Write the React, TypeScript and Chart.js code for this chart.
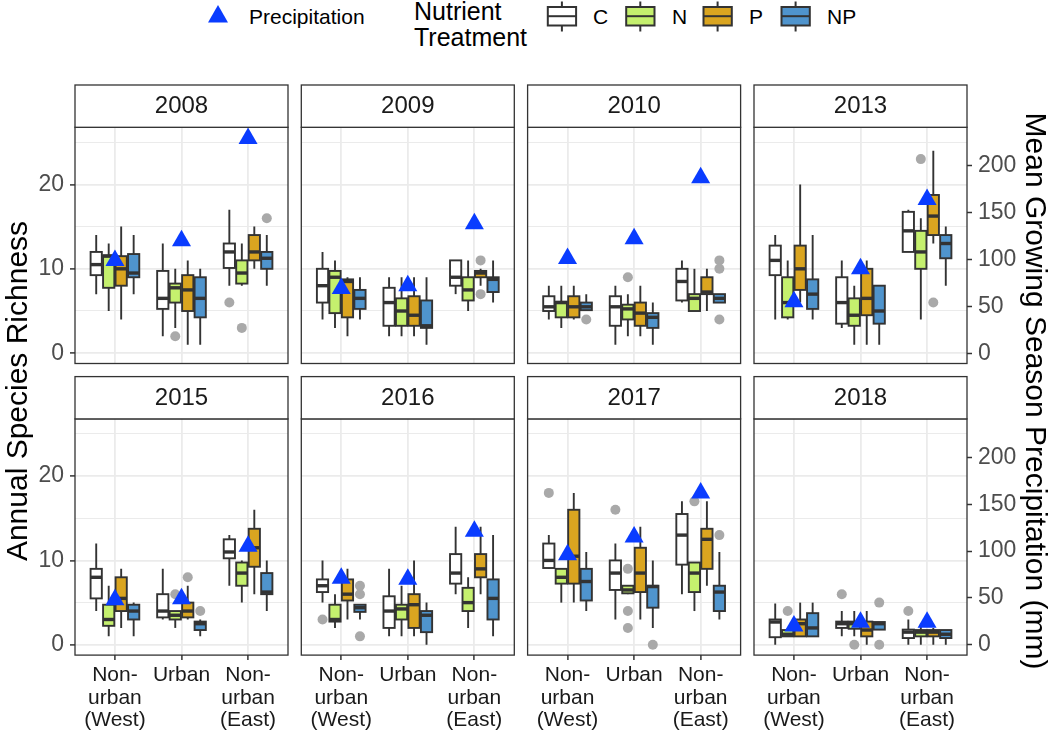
import React, { useEffect, useRef } from "react";
import { Chart, registerables } from "chart.js";

Chart.register(...registerables);

const FONT = "'Liberation Sans', Arial, Helvetica, sans-serif";

// ---------------- data ----------------
const years = ["2008", "2009", "2010", "2013", "2015", "2016", "2017", "2018"];
const siteLabels = [["Non-", "urban", "(West)"], ["Urban"], ["Non-", "urban", "(East)"]];
const treatments = ["C", "N", "P", "NP"];
const treatmentFills = ["#FFFFFF", "#C5F06E", "#DAA520", "#4F94CD"];
const richnessTicks = [0, 10, 20];
const richnessMinorTicks = [5, 15, 25];
const precipTicks = [0, 50, 100, 150, 200];

// mean growing season precipitation (mm): [West, Urban, East]
const precip2008 = [99, 120, 229];
const precip2009 = [69, 72, 138];
const precip2010 = [101, 122, 187];
const precip2013 = [55, 90, 164];
const precip2015 = [48, 49, 105];
const precip2016 = [71, 70, 121];
const precip2017 = [96, 115, 162];
const precip2018 = [20, 24, 24];

// box statistics [lower whisker, Q1, median, Q3, upper whisker]
// order: West C,N,P,NP | Urban C,N,P,NP | East C,N,P,NP
const box2008 = [
  [7, 9.25, 10.5, 12, 14], [5, 7.75, 11.5, 11.6, 13], [4, 8, 10, 11.5, 15], [7, 9, 9.5, 11.75, 14],
  [2, 5.25, 6.5, 9.75, 13], [3, 6, 7.75, 8.25, 10], [1, 5, 7.5, 9.25, 11], [1, 4.25, 6.5, 9, 10],
  [8, 10.1, 12, 13, 17], [8, 8.25, 9.5, 11, 13], [10, 11, 12, 14, 15], [8, 10, 11.25, 12, 14],
];
const box2009 = [
  [4, 6, 8, 10, 12], [3, 4.75, 9, 9.75, 11], [2, 4.25, 8.5, 8.75, 9], [4, 5.25, 6.5, 7.5, 9],
  [2, 3.25, 6, 7.75, 9], [2, 3.25, 5, 6.5, 9], [2, 3.25, 4.5, 6.75, 9], [1, 3, 3.25, 6.25, 9],
  [7, 8, 9, 11, 11], [5, 6.25, 7.5, 9, 11], [8, 9, 9.5, 9.75, 10], [6, 7.25, 8.75, 9, 11],
];
const box2010 = [
  [4, 5, 5.5, 6.75, 8], [3, 4.25, 6, 6.1, 8], [4, 4.25, 5.5, 6.75, 8], [5, 5.1, 5.5, 6, 7],
  [1, 3.25, 5.5, 6.75, 8], [2, 4, 5.25, 5.75, 7], [2, 3.25, 4.75, 6, 8], [1, 3, 4.25, 4.75, 6],
  [6, 6.25, 8.5, 10, 11], [5, 5, 6.5, 7, 10], [5, 7, 7.25, 9, 10], [6, 6, 6.5, 7, 7],
];
const box2013 = [
  [4, 9.25, 11, 12.75, 14], [4, 4.25, 6, 9, 11], [6, 7.5, 10, 12.75, 20], [4, 5.25, 7, 8.75, 14],
  [3, 3.5, 6, 9, 11], [1, 3.25, 4.5, 6.5, 8], [1, 4.5, 6.5, 10, 11], [1, 3.5, 5, 8, 8],
  [12, 12, 14.5, 16.75, 17], [4, 10, 12, 14.5, 16], [13, 14, 16.25, 18.75, 24], [8, 11.25, 13, 14, 15],
];
const box2015 = [
  [4, 5.5, 8, 9, 12], [1, 2.25, 3, 4.75, 7], [2, 4, 5.5, 8, 9], [1, 3, 4, 4.75, 5],
  [3, 3.25, 4, 6, 9], [2, 3, 3.5, 4, 4], [3, 3.25, 4, 5, 7], [1, 1.75, 2.5, 2.75, 3],
  [7, 10.25, 11, 12.5, 13], [5, 7, 8.5, 9.75, 10], [6, 9.25, 11.5, 13.75, 16], [4, 6, 6.25, 8.5, 10],
];
const box2016 = [
  [5, 6.25, 7, 7.75, 10], [2, 2.75, 3, 4.75, 6], [3, 5.25, 6, 7.75, 9], [3, 3.9, 4.4, 4.75, 4.75],
  [1, 2, 4, 5.75, 9], [1, 3, 4.25, 4.75, 7], [1, 2, 4.75, 6, 10], [0, 1.5, 3.5, 4, 5],
  [6, 7.25, 8.5, 10.75, 14], [2, 4, 5, 6.75, 8], [6, 8, 9, 10.75, 14], [1, 3, 5.5, 7.75, 13],
];
const box2017 = [
  [9, 9.1, 10, 12, 13], [5, 7.25, 8, 9, 9], [5, 7.25, 10.5, 16, 18], [4, 5.25, 7.5, 9, 11],
  [3, 6.5, 8.5, 10, 12], [6, 6.1, 6.5, 7, 7], [3, 6.25, 8.5, 11.5, 14], [2, 4.4, 6.9, 7, 10],
  [6, 9.5, 13, 15.5, 17], [4, 6.25, 8.5, 9.75, 9.75], [7, 9, 12.5, 13.75, 17], [3, 4, 6.25, 7, 11],
];
const box2018 = [
  [0, 0.9, 2.7, 3, 4.9], [1, 1, 1.25, 1.75, 2], [1, 1, 2.5, 3, 5], [1, 1, 2, 3.75, 5],
  [1, 2, 2.5, 2.75, 4], [1, 1.9, 2.5, 2.75, 4], [0, 1, 1.75, 2.75, 4], [1.75, 1.8, 2.5, 2.7, 2.7],
  [0, 0.8, 1.5, 1.8, 3], [0, 1, 1.5, 1.75, 2.5], [0, 1, 1.5, 1.75, 2], [0, 0.8, 1.25, 1.75, 1.75],
];

// outliers: [site index, treatment index, richness]
const out2008 = [[1, 1, 2], [2, 0, 6], [2, 1, 3], [2, 3, 16]];
const out2009 = [[2, 2, 11], [2, 2, 7]];
const out2010 = [[0, 3, 4], [1, 1, 9], [2, 3, 11], [2, 3, 10], [2, 3, 4]];
const out2013 = [[2, 1, 23], [2, 2, 6]];
const out2015 = [[1, 1, 6], [1, 2, 8], [1, 3, 4]];
const out2016 = [[0, 0, 3], [0, 3, 7], [0, 3, 6], [0, 3, 1]];
const out2017 = [[0, 0, 18], [1, 0, 16], [1, 1, 9], [1, 1, 4], [1, 1, 2], [1, 3, 0], [2, 1, 17], [2, 3, 13]];
const out2018 = [[0, 1, 4], [1, 0, 6], [1, 1, 0], [1, 3, 5], [1, 3, 0], [2, 0, 4]];

const precipByYear = [precip2008, precip2009, precip2010, precip2013, precip2015, precip2016, precip2017, precip2018];
const boxesByYear = [box2008, box2009, box2010, box2013, box2015, box2016, box2017, box2018];
const outliersByYear = [out2008, out2009, out2010, out2013, out2015, out2016, out2017, out2018];

// ---------------- styling / layout ----------------
const PRECIP_FACTOR = 9; // secondary axis: mm = richness * 9
const Y_MIN = -1.22;
const Y_MAX = 26.77;
const X_MIN = 0.4;
const X_MAX = 3.6;
const GROUP_WIDTH = 0.75;
const SLOT = GROUP_WIDTH / treatments.length;
const BOX_FRAC = 0.9;
const BLUE = "#0A3CFF";
const OUTLIER = "#A9A9A9";
const EDGE = "#333333";
const GRID = "#EBEBEB";

const PANEL_LEFTS = [75, 301.3, 527.6, 754];
const PANEL_W = 213;
const STRIP_TOPS = [85, 376.6];
const STRIP_H = 42.3;
const PLOT_H = 236.2;

const dodge = (t: number) => (t - (treatments.length - 1) / 2) * SLOT;

function makeBoxPlugin(stats: number[][]) {
  return {
    id: "boxes",
    afterDatasetDraw(chart: any, args: any) {
      if (args.index !== 1) return;
      const ctx = chart.ctx;
      const xs = chart.scales.x;
      const ys = chart.scales.y;
      ctx.save();
      stats.forEach((st, k) => {
        const s = Math.floor(k / treatments.length);
        const t = k % treatments.length;
        const c = s + 1 + dodge(t);
        const half = (SLOT * BOX_FRAC) / 2;
        const xl = xs.getPixelForValue(c - half);
        const xr = xs.getPixelForValue(c + half);
        const xm = xs.getPixelForValue(c);
        const [lo, q1, med, q3, hi] = st.map((v) => ys.getPixelForValue(v));
        ctx.strokeStyle = EDGE;
        ctx.lineWidth = 1.9;
        ctx.beginPath();
        ctx.moveTo(xm, hi);
        ctx.lineTo(xm, q3);
        ctx.moveTo(xm, q1);
        ctx.lineTo(xm, lo);
        ctx.stroke();
        ctx.fillStyle = treatmentFills[t];
        ctx.fillRect(xl, q3, xr - xl, q1 - q3);
        ctx.strokeRect(xl, q3, xr - xl, q1 - q3);
        ctx.lineWidth = 3.4;
        ctx.beginPath();
        ctx.moveTo(xl, med);
        ctx.lineTo(xr, med);
        ctx.stroke();
      });
      ctx.restore();
    },
  };
}

function makeFramePlugin(year: string) {
  return {
    id: "frame",
    afterDraw(chart: any) {
      const ctx = chart.ctx;
      const { left, top, right, bottom } = chart.chartArea;
      ctx.save();
      ctx.strokeStyle = EDGE;
      ctx.lineWidth = 1.3;
      ctx.strokeRect(left, top, right - left, bottom - top);
      ctx.fillStyle = "#FFFFFF";
      ctx.fillRect(left, top - STRIP_H, right - left, STRIP_H);
      ctx.strokeRect(left, top - STRIP_H, right - left, STRIP_H);
      ctx.fillStyle = "#1A1A1A";
      ctx.font = `24px ${FONT}`;
      ctx.textAlign = "center";
      ctx.textBaseline = "middle";
      ctx.fillText(year, (left + right) / 2, top - STRIP_H / 2 + 0.5);
      ctx.restore();
    },
  };
}

function Panel({ idx }: { idx: number }) {
  const ref = useRef<HTMLCanvasElement>(null);
  const col = idx % 4;
  const row = Math.floor(idx / 4);
  const panelLeft = PANEL_LEFTS[col];
  const canvasLeft = Math.floor(panelLeft) - 60;
  const leftW = panelLeft - canvasLeft;
  const canvasW = Math.ceil(leftW + PANEL_W + 70);
  const rightW = canvasW - leftW - PANEL_W;
  const stripTop = STRIP_TOPS[row];
  const canvasTop = Math.floor(stripTop) - 2;
  const padTop = stripTop - canvasTop + STRIP_H;
  const canvasH = Math.ceil(padTop + PLOT_H + 80);
  const bottomH = canvasH - padTop - PLOT_H;

  useEffect(() => {
    const precip = precipByYear[idx];
    const outs = outliersByYear[idx];
    const chart = new Chart(ref.current as HTMLCanvasElement, {
      type: "scatter",
      data: {
        datasets: [
          {
            label: "Precipitation",
            data: precip.map((v, i) => ({ x: i + 1, y: v })),
            xAxisID: "x",
            yAxisID: "y2",
            pointStyle: "triangle",
            pointRadius: 11,
            pointBackgroundColor: BLUE,
            pointBorderWidth: 0,
            pointBorderColor: BLUE,
            clip: false,
          } as any,
          {
            label: "Outliers",
            data: outs.map(([s, t, v]) => ({ x: s + 1 + dodge(t), y: v })),
            xAxisID: "x",
            yAxisID: "y",
            pointStyle: "circle",
            pointRadius: 5,
            pointBackgroundColor: OUTLIER,
            pointBorderWidth: 0,
            pointBorderColor: OUTLIER,
          } as any,
        ],
      },
      options: {
        responsive: false,
        animation: false,
        devicePixelRatio: 1,
        events: [],
        layout: { autoPadding: false, padding: { top: padTop, left: 0, right: 0, bottom: 0 } },
        plugins: { legend: { display: false }, tooltip: { enabled: false }, title: { display: false } },
        scales: {
          x: {
            type: "linear",
            position: "bottom",
            min: X_MIN,
            max: X_MAX,
            bounds: "data",
            afterBuildTicks: (s: any) => {
              s.ticks = siteLabels.map((_, i) => ({ value: i + 1 }));
            },
            afterFit: (s: any) => {
              s.height = bottomH;
            },
            border: { display: false },
            grid: {
              color: GRID,
              lineWidth: 1.8,
              drawTicks: row === 1,
              tickLength: 5,
              tickColor: EDGE,
              tickWidth: 1.5,
            },
            ticks: {
              display: row === 1,
              autoSkip: false,
              maxRotation: 0,
              minRotation: 0,
              padding: 4,
              color: "#1A1A1A",
              font: { family: FONT, size: 21, lineHeight: 1.07 },
              callback: (v: any) => siteLabels[Number(v) - 1],
            },
          },
          y: {
            type: "linear",
            position: "left",
            min: Y_MIN,
            max: Y_MAX,
            bounds: "data",
            afterBuildTicks: (s: any) => {
              s.ticks = [...richnessTicks, ...richnessMinorTicks].sort((a, b) => a - b).map((v) => ({ value: v }));
            },
            afterFit: (s: any) => {
              s.width = leftW;
            },
            border: { display: false },
            grid: {
              color: GRID,
              lineWidth: (c: any) => (richnessTicks.includes(c.tick?.value) ? 1.8 : 1.1),
              drawTicks: col === 0,
              tickLength: 5,
              tickColor: (c: any) => (richnessTicks.includes(c.tick?.value) ? EDGE : "rgba(0,0,0,0)"),
              tickWidth: 1.5,
            },
            ticks: {
              display: col === 0,
              autoSkip: false,
              padding: 6,
              color: "#4D4D4D",
              font: { family: FONT, size: 23 },
              callback: (v: any) => (richnessTicks.includes(Number(v)) ? String(v) : ""),
            },
          },
          y2: {
            type: "linear",
            position: "right",
            min: Y_MIN * PRECIP_FACTOR,
            max: Y_MAX * PRECIP_FACTOR,
            bounds: "data",
            afterBuildTicks: (s: any) => {
              s.ticks = precipTicks.map((v) => ({ value: v }));
            },
            afterFit: (s: any) => {
              s.width = rightW;
            },
            border: { display: false },
            grid: {
              display: col === 3,
              drawOnChartArea: false,
              drawTicks: col === 3,
              tickLength: 5,
              tickColor: EDGE,
              tickWidth: 1.5,
            },
            ticks: {
              display: col === 3,
              autoSkip: false,
              padding: 6,
              color: "#4D4D4D",
              font: { family: FONT, size: 23 },
              callback: (v: any) => String(v),
            },
          },
        },
      } as any,
      plugins: [makeBoxPlugin(boxesByYear[idx]), makeFramePlugin(years[idx])],
    });
    return () => chart.destroy();
  }, [idx]);

  return (
    <canvas
      ref={ref}
      width={canvasW}
      height={canvasH}
      style={{ position: "absolute", left: canvasLeft, top: canvasTop, width: canvasW, height: canvasH }}
    />
  );
}

function Legend() {
  const keyLefts = [547.3, 625.7, 703, 781];
  const labelLefts = [593, 672, 749, 827];
  const textStyle: any = {
    position: "absolute",
    fontSize: 21,
    lineHeight: "21px",
    color: "#000",
    whiteSpace: "nowrap",
    fontFamily: FONT,
  };
  return (
    <>
      <svg width={1050} height={40} style={{ position: "absolute", left: 0, top: 0 }}>
        <polygon points="218,5 208,22.5 228,22.5" fill={BLUE} />
        {treatments.map((t, i) => {
          const l = keyLefts[i];
          const cx = l + 14.6;
          return (
            <g key={t} stroke={EDGE} strokeWidth={2} fill="none">
              <line x1={cx} y1={1.5} x2={cx} y2={7} />
              <line x1={cx} y1={25.5} x2={cx} y2={31.5} />
              <rect x={l + 0.5} y={7} width={28.3} height={18.5} fill={treatmentFills[i]} />
              <line x1={l + 0.5} y1={16.2} x2={l + 28.8} y2={16.2} />
            </g>
          );
        })}
      </svg>
      <div style={{ ...textStyle, left: 249, top: 6 }}>Precipitation</div>
      <div style={{ ...textStyle, left: 414, top: -1.5, fontSize: 25, lineHeight: "25px" }}>Nutrient</div>
      <div style={{ ...textStyle, left: 414, top: 25.2, fontSize: 25, lineHeight: "25px" }}>Treatment</div>
      {treatments.map((t, i) => (
        <div key={t} style={{ ...textStyle, left: labelLefts[i], top: 6 }}>
          {t}
        </div>
      ))}
    </>
  );
}

export default function App() {
  const titleBase: any = {
    position: "absolute",
    width: 700,
    height: 34,
    lineHeight: "34px",
    textAlign: "center",
    fontSize: 30,
    color: "#000",
    whiteSpace: "nowrap",
    fontFamily: FONT,
  };
  return (
    <div
      style={{
        position: "absolute",
        left: 0,
        top: 0,
        width: 1050,
        height: 733,
        background: "#FFFFFF",
        overflow: "hidden",
        fontFamily: FONT,
      }}
    >
      <Legend />
      {years.map((y, i) => (
        <Panel key={y} idx={i} />
      ))}
      <div style={{ ...titleBase, left: 17 - 350, top: 391 - 17, transform: "rotate(-90deg)" }}>
        Annual Species Richness
      </div>
      <div style={{ ...titleBase, left: 1035.5 - 350, top: 391 - 17, transform: "rotate(90deg)" }}>
        Mean Growing Season Precipitation (mm)
      </div>
    </div>
  );
}
